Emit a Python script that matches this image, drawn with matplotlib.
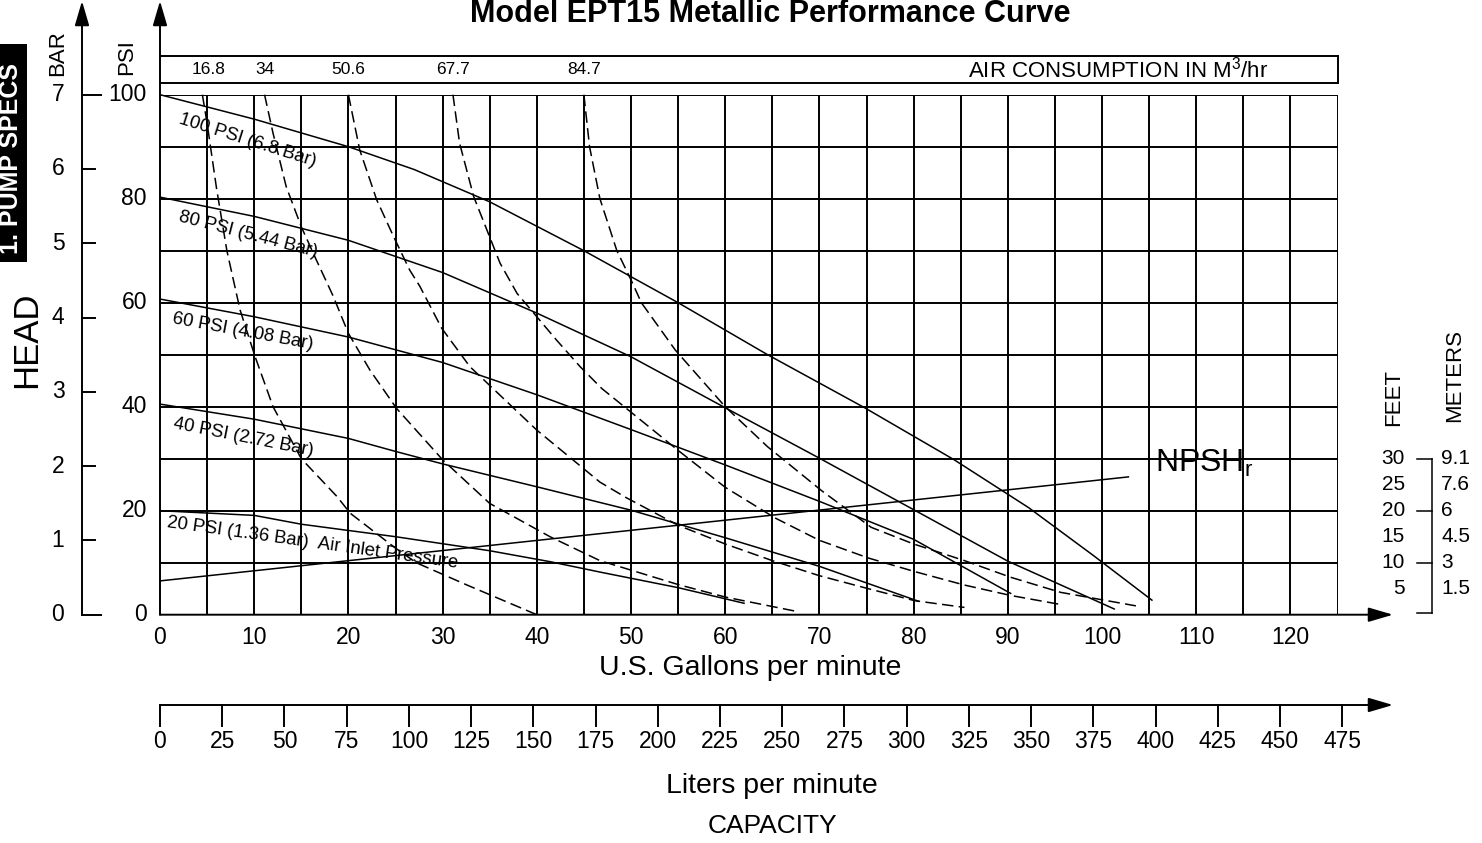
import matplotlib
matplotlib.use("Agg")
import matplotlib.pyplot as plt
import numpy as np
from matplotlib.patches import Rectangle

plt.rcParams["font.family"] = ["Liberation Sans", "DejaVu Sans"]
plt.rcParams["mathtext.fontset"] = "custom"
plt.rcParams["mathtext.rm"] = "Liberation Sans"

# head (psi) vs flow (US gpm) for each air inlet pressure
psi100_gpm = [0, 10, 20, 27, 35, 45, 55, 64.5, 74.8, 84.3, 92.2, 99, 105.3]
psi100_head = [100, 95.3, 90, 85.6, 79.4, 70, 60, 50, 39.8, 29.8, 20.6, 11.5, 2.8]
psi80_gpm = [0, 10, 20, 30, 40, 50, 60, 70, 80, 90, 101.3]
psi80_head = [80.3, 76.6, 72, 65.8, 58, 49.6, 39.8, 30.1, 20.2, 10.3, 1.1]
psi60_gpm = [0, 10, 20, 30, 40, 50, 60, 70, 80, 90.3]
psi60_head = [60.7, 57.3, 53.4, 48.5, 42.3, 35.6, 28.8, 21.8, 14.5, 4.1]
psi40_gpm = [0, 10, 20, 25, 30, 40, 50, 60, 70, 80.5]
psi40_head = [40.5, 37.6, 33.9, 31.4, 29, 24.6, 20.1, 14.8, 9.3, 2.6]
psi20_gpm = [0, 10, 15, 25, 35, 41.4, 46.7, 55, 62]
psi20_head = [20, 19.1, 17.4, 15, 12.3, 10.2, 8.2, 5.2, 2.2]

pressure_curves = [
    (psi100_gpm, psi100_head),
    (psi80_gpm, psi80_head),
    (psi60_gpm, psi60_head),
    (psi40_gpm, psi40_head),
    (psi20_gpm, psi20_head),
]
pressure_labels = [
    "100 PSI (6.8 Bar)",
    "80 PSI (5.44 Bar)",
    "60 PSI (4.08 Bar)",
    "40 PSI (2.72 Bar)",
    "20 PSI (1.36 Bar)  Air Inlet Pressure",
]

# air consumption (m3/hr) curves
air_values = ["16.8", "34", "50.6", "67.7", "84.7"]
air168_gpm = [4.5, 5, 6, 7.1, 8.5, 10.1, 12, 15, 18.8, 20.2, 25, 27.2, 32.6, 40]
air168_head = [100, 94.5, 82, 70, 58.6, 49.6, 40, 30, 22.7, 19.5, 12.8, 10, 5.7, 0]
air34_gpm = [11.1, 12, 13.4, 15, 16.6, 18.4, 20, 22.3, 25.1, 30, 35, 41.4, 46.7, 55, 60, 67.4]
air34_head = [100, 92.6, 82.3, 74.6, 68.2, 61.2, 54.1, 47, 39.7, 29.8, 21.4, 15, 10.4, 5.8, 3.4, 0.7]
air506_gpm = [20, 21.2, 23, 24.8, 26.5, 27.6, 29.9, 32.9, 40, 46.7, 49.5, 55, 60, 65, 70, 75.2, 80.1, 85.4]
air506_head = [100, 89.4, 79.8, 72.7, 66.3, 63.1, 55.1, 47.7, 35.5, 25.5, 22.5, 17.2, 13.6, 10.4, 7.5, 5, 2.7, 1.4]
air677_gpm = [31.1, 31.8, 33.3, 34.7, 36.1, 37.9, 40, 42.1, 44.6, 46.9, 55, 60, 65.3, 70, 75.2, 80.1, 85.4, 90.3, 95.8]
air677_head = [100, 90.7, 80.4, 74, 67.6, 61.8, 57.3, 52.8, 47.7, 43.5, 31.6, 24.5, 18.6, 14.3, 10.9, 8.3, 5.7, 3.7, 1.9]
air847_gpm = [45, 45.6, 46.7, 48.5, 50, 51.1, 54.7, 60, 64.5, 70.2, 75.5, 80, 85.4, 90.3, 95.6, 103.6]
air847_head = [100, 90, 80, 70, 64.4, 60, 50.9, 40, 32.3, 23.9, 16.8, 13.6, 10.4, 7.2, 4.3, 1.7]

air_curves = [
    (air168_gpm, air168_head),
    (air34_gpm, air34_head),
    (air506_gpm, air506_head),
    (air677_gpm, air677_head),
    (air847_gpm, air847_head),
]

npsh_gpm = [0, 102.8]
npsh_feet = [6.5, 26.5]

gpm_ticks = list(range(0, 121, 10))
psi_ticks = list(range(0, 101, 20))
bar_ticks = list(range(0, 8))
liter_ticks = list(range(0, 476, 25))
feet_ticks = [30, 25, 20, 15, 10, 5]
meter_labels = ["9.1", "7.6", "6", "4.5", "3", "1.5"]

W, H = 1482, 843
fig = plt.figure(figsize=(W / 100, H / 100), dpi=100)

# main grid area in pixels
X0, X1, Y0, Y1 = 160, 1337.5, 614.7, 94.7
ax = fig.add_axes([X0 / W, (H - Y0) / H, (X1 - X0) / W, (Y0 - Y1) / H])
ax.set_xlim(0, 125)
ax.set_ylim(0, 100)
ax.axis("off")

sx = (X1 - X0) / 125.0
sy = (Y0 - Y1) / 100.0


def gx(px):
    return (px - X0) / sx


def gy(py):
    return (Y0 - py) / sy


K = "black"
grid_lw = 1.4
curve_lw = 1.1

ax.vlines(np.arange(5, 126, 5), 0, 100, color=K, lw=grid_lw)
ax.hlines(np.arange(10, 101, 10), 0, 125, color=K, lw=grid_lw)

# arrows for axes
arrow = dict(arrowstyle="-|>,head_length=0.75,head_width=0.22", color=K, lw=grid_lw,
             shrinkA=0, shrinkB=0, mutation_scale=20)
ax.annotate("", xy=(0, gy(1)), xytext=(0, 0), arrowprops=arrow, annotation_clip=False)
ax.annotate("", xy=(gx(82), gy(1)), xytext=(gx(82), 0), arrowprops=arrow, annotation_clip=False)
ax.annotate("", xy=(gx(1393), 0), xytext=(0, 0), arrowprops=arrow, annotation_clip=False)
ax.annotate("", xy=(gx(1393), gy(705)), xytext=(0, gy(705)), arrowprops=arrow, annotation_clip=False)

# air consumption band
ax.plot([0, 125], [gy(56), gy(56)], color=K, lw=grid_lw, clip_on=False)
ax.plot([0, 125], [gy(82.5), gy(82.5)], color=K, lw=grid_lw, clip_on=False)
ax.plot([125, 125], [gy(56), gy(82.5)], color=K, lw=grid_lw, clip_on=False)

for lab, (g, h) in zip(air_values, air_curves):
    ax.text(g[0] + (0.7 if lab == "16.8" else 0), gy(70), lab, ha="center", va="center", fontsize=12.5)
ax.text(gx(968), gy(70), r"AIR CONSUMPTION IN M$^{\mathregular{3}}$/hr", ha="left", va="center", fontsize=16)

# curves
for g, h in pressure_curves:
    ax.plot(g, h, color=K, lw=curve_lw, clip_on=False)
for g, h in air_curves:
    ax.plot(g, h, color=K, lw=curve_lw, ls=(0, (7.5, 3.5)), clip_on=False)
ax.plot(npsh_gpm, npsh_feet, color=K, lw=curve_lw)

label_pos = [(1.95, 94.5, -17.6), (1.95, 75.6, -14.5), (1.24, 56.0, -10.5),
             (1.4, 35.8, -11.2), (0.7, 16.9, -8.0)]
for lab, (x, y, r) in zip(pressure_labels, label_pos):
    ax.text(x, y, lab, rotation=r, rotation_mode="anchor", ha="left", va="baseline", fontsize=13.3)

ax.text(gx(1155), gy(463), r"NPSH$_{\mathregular{r}}$", ha="left", va="center", fontsize=23)

# PSI labels
for v in psi_ticks:
    ax.text(gx(147), v, str(v), ha="right", va="center", fontsize=16.5)
# BAR axis
for b in bar_ticks:
    yv = b * 100 / 7
    x_end = 101 if b in (0, 7) else 95
    ax.plot([gx(82), gx(x_end)], [yv, yv], color=K, lw=grid_lw, clip_on=False)
    ax.text(gx(58), yv, str(b), ha="center", va="center", fontsize=16.5)

# gpm labels
for v in gpm_ticks:
    ax.text(v, gy(637), str(v), ha="center", va="center", fontsize=16.5)

# liters axis
for L in liter_ticks:
    xv = L / 3.785
    ax.plot([xv, xv], [gy(705), gy(726)], color=K, lw=grid_lw, clip_on=False)
    ax.text(xv, gy(741), str(L), ha="center", va="center", fontsize=16.5)

# NPSH feet / meters scale
bx = gx(1432)
ax.plot([bx, bx], [30, gy(613.3)], color=K, lw=curve_lw, clip_on=False)
for f in (30, 20, 10):
    ax.plot([gx(1417), bx], [f, f], color=K, lw=curve_lw, clip_on=False)
ax.plot([gx(1417), bx], [gy(613.3), gy(613.3)], color=K, lw=curve_lw, clip_on=False)
for f, m in zip(feet_ticks, meter_labels):
    ax.text(gx(1405), f, str(f), ha="right", va="center", fontsize=15)
    ax.text(gx(1441), f, m, ha="left", va="center", fontsize=15)

# axis titles
ax.text(gx(750), gy(668), "U.S. Gallons per minute", ha="center", va="center", fontsize=20.5)
ax.text(gx(772), gy(786), "Liters per minute", ha="center", va="center", fontsize=20.5)
ax.text(gx(772), gy(826), "CAPACITY", ha="center", va="center", fontsize=19)
ax.text(gx(27), gy(340), "HEAD", rotation=90, ha="center", va="center", fontsize=25)
ax.text(gx(58), gy(53), "BAR", rotation=90, ha="center", va="center", fontsize=16)
ax.text(gx(127), gy(57), "PSI", rotation=90, ha="center", va="center", fontsize=16)
ax.text(gx(1394), gy(397), "FEET", rotation=90, ha="center", va="center", fontsize=16)
ax.text(gx(1455), gy(375), "METERS", rotation=90, ha="center", va="center", fontsize=16)

fig.text(770 / W, 1 - 22 / H, "Model EPT15 Metallic Performance Curve", ha="center", va="baseline",
         fontsize=22, fontweight="bold")

fig.patches.append(Rectangle((0, 1 - 262 / H), 27 / W, 218 / H, transform=fig.transFigure,
                             facecolor=K, edgecolor="none"))
fig.text(11 / W, 1 - 158 / H, "1. PUMP SPECS", rotation=90, ha="center", va="center",
         color="white", fontsize=18, fontweight="bold")

fig.savefig("out.png", dpi=100)
